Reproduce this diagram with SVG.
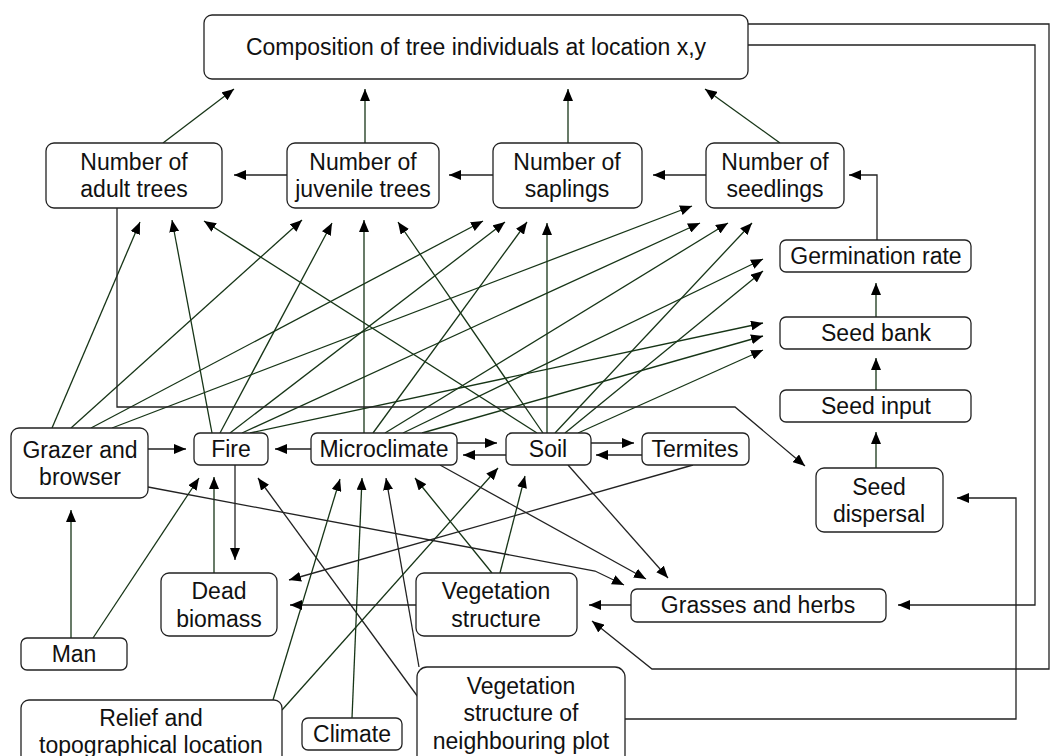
<svg xmlns="http://www.w3.org/2000/svg" width="1050" height="756" viewBox="0 0 1050 756">
<defs>
<marker id="ah" viewBox="0 0 12 10" refX="12" refY="5" markerWidth="12" markerHeight="10" markerUnits="userSpaceOnUse" orient="auto">
<path d="M0,0 L12,5 L0,10 z" fill="#000"/>
</marker>
<style>
.box{fill:#fff;stroke:#222;stroke-width:1.3}
.t{font-family:"Liberation Sans",Arial,sans-serif;font-size:23px;fill:#111;text-anchor:middle}
.c{fill:none;stroke:#173517;stroke-width:1.3;marker-end:url(#ah)}
.k{fill:none;stroke:#222;stroke-width:1.3;marker-end:url(#ah)}
</style>
</defs>
<rect width="1050" height="756" fill="#fff"/>
<g id="connectors">
<path class="k" d="M287,175 L234,175"/>
<path class="k" d="M493,175 L449,175"/>
<path class="k" d="M706,175 L653,175"/>
<path class="k" d="M877,240 L877,175 L849,175"/>
<path class="c" d="M163,143 L234,89"/>
<path class="c" d="M365,143 L365,89"/>
<path class="c" d="M568,143 L568,89"/>
<path class="c" d="M780,143 L705,89"/>
<path class="c" d="M876,317 L876,283"/>
<path class="c" d="M876,390 L876,358"/>
<path class="c" d="M876,468 L876,432"/>
<path class="k" d="M148,449 L186,449"/>
<path class="k" d="M311,449 L275,449"/>
<path class="k" d="M457,443 L497,443"/>
<path class="k" d="M506,455 L463,455"/>
<path class="k" d="M591,443 L634,443"/>
<path class="k" d="M642,455 L596,455"/>
<path class="c" d="M52,428 L140,222"/>
<path class="c" d="M71,428 L302,220"/>
<path class="c" d="M91,428 L483,221"/>
<path class="c" d="M112,428 L692,206"/>
<path class="c" d="M212,433 L172,220"/>
<path class="c" d="M220,433 L332,223"/>
<path class="c" d="M230,433 L505,222"/>
<path class="c" d="M242,433 L700,223"/>
<path class="c" d="M250,433 L763,323"/>
<path class="c" d="M364,433 L364,220"/>
<path class="c" d="M373,433 L527,222"/>
<path class="c" d="M385,433 L728,223"/>
<path class="c" d="M403,433 L763,259"/>
<path class="c" d="M422,433 L763,336"/>
<path class="c" d="M537,433 L204,221"/>
<path class="c" d="M543,433 L398,222"/>
<path class="c" d="M547,433 L547,223"/>
<path class="c" d="M555,433 L752,223"/>
<path class="c" d="M565,433 L763,271"/>
<path class="c" d="M578,433 L763,350"/>
<path class="k" d="M235,465 L235,560"/>
<path class="c" d="M214,573 L214,477"/>
<path class="c" d="M71,638 L71,510"/>
<path class="c" d="M93,638 L199,478"/>
<path class="k" d="M418,697 L258,478"/>
<path class="c" d="M273,700 L340,479"/>
<path class="c" d="M352,718 L362,478"/>
<path class="k" d="M419,667 L386,478"/>
<path class="c" d="M492,573 L415,478"/>
<path class="c" d="M282,710 L498,468"/>
<path class="c" d="M500,573 L525,476"/>
<path class="k" d="M148,487 L595,571 L624,585"/>
<path class="k" d="M440,465 L646,579"/>
<path class="k" d="M568,465 L668,578"/>
<path class="k" d="M693,465 L289,580"/>
<path class="k" d="M631,605 L589,605"/>
<path class="k" d="M416,605 L290,605"/>
<path class="k" d="M117,208 L117,407 L735,407 L805,466"/>
<path class="k" d="M748,24 L1049,24 L1049,669 L652,669 L592,621"/>
<path class="k" d="M748,45 L1035,45 L1035,605 L898,605"/>
<path class="k" d="M625,719 L1016,719 L1016,498 L957,498"/>
</g>
<g id="composition"><rect class="box" x="204" y="15" width="544" height="64" rx="8"/><text class="t" x="476" y="55">Composition of tree individuals at location x,y</text></g>
<g id="adult"><rect class="box" x="46" y="143" width="176" height="65" rx="8"/><text class="t" x="134" y="170">Number of</text><text class="t" x="134" y="197">adult trees</text></g>
<g id="juvenile"><rect class="box" x="287" y="143" width="152" height="65" rx="8"/><text class="t" x="363" y="170">Number of</text><text class="t" x="363" y="197">juvenile trees</text></g>
<g id="saplings"><rect class="box" x="493" y="143" width="149" height="65" rx="8"/><text class="t" x="567" y="170">Number of</text><text class="t" x="567" y="197">saplings</text></g>
<g id="seedlings"><rect class="box" x="706" y="143" width="138" height="65" rx="8"/><text class="t" x="775" y="170">Number of</text><text class="t" x="775" y="197">seedlings</text></g>
<g id="germination"><rect class="box" x="780" y="240" width="191" height="32" rx="6"/><text class="t" x="876" y="264">Germination rate</text></g>
<g id="seedbank"><rect class="box" x="780" y="317" width="191" height="32" rx="6"/><text class="t" x="876" y="341">Seed bank</text></g>
<g id="seedinput"><rect class="box" x="780" y="390" width="191" height="32" rx="6"/><text class="t" x="876" y="414">Seed input</text></g>
<g id="seeddispersal"><rect class="box" x="816" y="468" width="127" height="64" rx="8"/><text class="t" x="879" y="495">Seed</text><text class="t" x="879" y="522">dispersal</text></g>
<g id="grazer"><rect class="box" x="11" y="428" width="137" height="70" rx="8"/><text class="t" x="80" y="458">Grazer and</text><text class="t" x="80" y="485">browser</text></g>
<g id="fire"><rect class="box" x="194" y="433" width="74" height="32" rx="6"/><text class="t" x="231" y="457">Fire</text></g>
<g id="microclimate"><rect class="box" x="311" y="433" width="146" height="32" rx="6"/><text class="t" x="384" y="457">Microclimate</text></g>
<g id="soil"><rect class="box" x="506" y="433" width="85" height="32" rx="6"/><text class="t" x="548" y="457">Soil</text></g>
<g id="termites"><rect class="box" x="642" y="433" width="107" height="32" rx="6"/><text class="t" x="695" y="457">Termites</text></g>
<g id="deadbiomass"><rect class="box" x="161" y="573" width="116" height="63" rx="8"/><text class="t" x="219" y="599">Dead</text><text class="t" x="219" y="627">biomass</text></g>
<g id="vegetation"><rect class="box" x="416" y="573" width="161" height="63" rx="8"/><text class="t" x="496" y="599">Vegetation</text><text class="t" x="496" y="627">structure</text></g>
<g id="grasses"><rect class="box" x="631" y="589" width="255" height="33" rx="6"/><text class="t" x="758" y="613">Grasses and herbs</text></g>
<g id="man"><rect class="box" x="21" y="638" width="106" height="32" rx="6"/><text class="t" x="74" y="662">Man</text></g>
<g id="relief"><rect class="box" x="21" y="700" width="261" height="70" rx="8"/><text class="t" x="151" y="726">Relief and</text><text class="t" x="151" y="753">topographical location</text></g>
<g id="climate"><rect class="box" x="302" y="718" width="100" height="32" rx="6"/><text class="t" x="352" y="742">Climate</text></g>
<g id="neighbouring"><rect class="box" x="417" y="667" width="208" height="100" rx="10"/><text class="t" x="521" y="694">Vegetation</text><text class="t" x="521" y="721">structure of</text><text class="t" x="521" y="749">neighbouring plot</text></g>
</svg>
